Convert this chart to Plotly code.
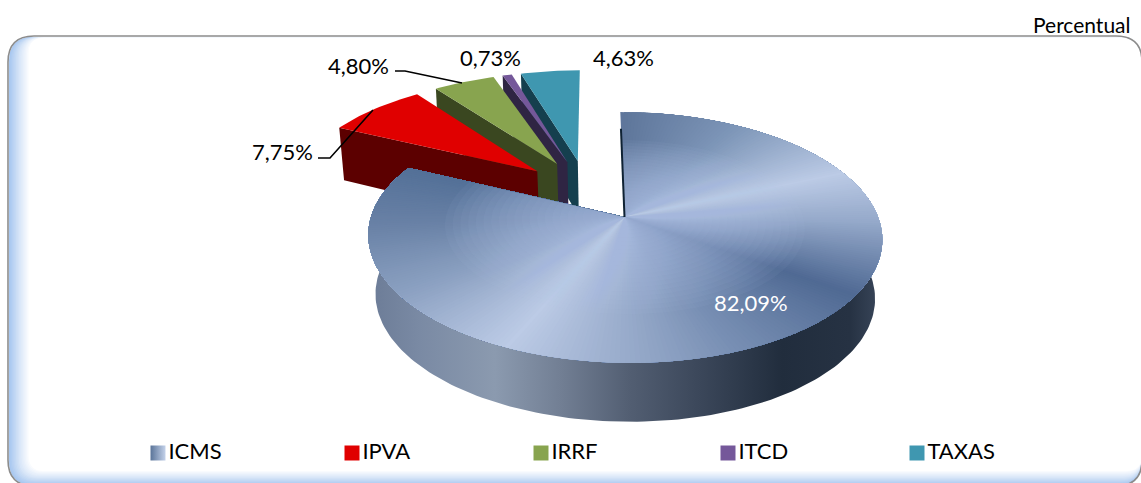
import math
import plotly.graph_objects as go

# ---- data ----
categories = ["ICMS", "IPVA", "IRRF", "ITCD", "TAXAS"]
values = [82.09, 7.75, 4.80, 0.73, 4.63]
value_labels = ["82,09%", "7,75%", "4,80%", "0,73%", "4,63%"]
top_colors = ["#5a7499", "#e00000", "#88a44f", "#75589a", "#3f97b0"]
wall_colors = ["#1d2a3b", "#5c0000", "#3a4720", "#2f2543", "#153f4e"]

W, H = 1141, 483
FONT = "Lato"

# ---- projection of the tilted disc to axis units ----
XV, X0, AX, BY, Y0, K = 594.5, 624.5, 253.5, 122.0, 217.0, 0.163
PULL = 0.27


def project(u, v, low=False):
    w = 1 + K * v
    x = XV + (X0 - XV + AX * u) / w
    y = Y0 - BY * v / w
    if low:
        s = 0.972 if v < 0.2 else min(0.986, 0.972 + 0.014 * (v - 0.2) / 0.8)
        x = 624 + (x - 624) * s
        y += 59 if v < 0 else 59 - 7.7 * v
    return x, y


def unit(deg):
    r = math.radians(deg)
    return math.sin(r), math.cos(r)


def lerp_color(stops, t):
    if t <= stops[0][0]:
        return stops[0][1]
    for (t0, c0), (t1, c1) in zip(stops, stops[1:]):
        if t <= t1:
            f = 0 if t1 == t0 else (t - t0) / (t1 - t0)
            ch = [int(c0[i:i + 2], 16) + f * (int(c1[i:i + 2], 16) - int(c0[i:i + 2], 16)) for i in (1, 3, 5)]
            return "rgb(%d,%d,%d)" % tuple(ch)
    return stops[-1][1]


fig = go.Figure()


def add_poly(pts, color):
    xs = [p[0] for p in pts] + [pts[0][0]]
    ys = [p[1] for p in pts] + [pts[0][1]]
    fig.add_trace(go.Scatter(x=xs, y=ys, mode="lines", fill="toself", fillcolor=color,
                             line=dict(width=0, color=color), hoverinfo="skip", showlegend=False))


# ---- slice angles come from the values ----
total = sum(values)
edges = [0.0]
for val in values:
    edges.append(edges[-1] + val / total * 360)
main_mid = unit((edges[0] + edges[1]) / 2)


def offset(i):
    if i == 0:
        return 0.0, 0.0
    d = unit((edges[i] + edges[i + 1]) / 2)
    return PULL * (d[0] - main_mid[0]), PULL * (d[1] - main_mid[1])


def slid(p):
    return p[0] - 1.5, p[1]


# pulled slices, back to front
for i in [4, 3, 2, 1]:
    ou, ov = offset(i)
    a0, a1 = edges[i], edges[i + 1]
    su, sv = unit(a0)
    wall = [project(ou + su, ov + sv), project(ou, ov), project(ou, ov, True), project(ou + su, ov + sv, True)]
    add_poly([slid(p) for p in wall], wall_colors[i])
    steps = max(4, int(a1 - a0))
    top = [project(ou, ov)]
    for s in range(steps + 1):
        uu, vv = unit(a0 + (a1 - a0) * s / steps)
        top.append(project(ou + uu, ov + vv))
    add_poly([slid(p) for p in top], top_colors[i])

# ICMS outer wall
a1 = edges[1]
arc = [a1 * s / 220 for s in range(221) if a1 * s / 220 >= 55]
upper = [project(*unit(a)) for a in arc]
lower = [project(*unit(a), True) for a in reversed(arc)]
wall = upper + lower
G0, G1 = 367.0, 882.0
wall_stops = [(367, "#6b7b96"), (420, "#7a8aa4"), (495, "#8b9aaf"), (560, "#727f94"), (630, "#525e72"),
              (700, "#3b475a"), (782, "#212d3d"), (850, "#263243"), (882, "#3a475b")]
fig.add_trace(go.Scatter(
    x=[p[0] for p in wall] + [wall[0][0]], y=[p[1] for p in wall] + [wall[0][1]],
    mode="lines", fill="toself", line=dict(width=0), hoverinfo="skip", showlegend=False,
    fillgradient=dict(type="horizontal", start=G0, stop=G1,
                      colorscale=[[(x - G0) / (G1 - G0), c] for x, c in wall_stops]),
))

# ICMS top face: colour turns around the apex, painted in overlapping sectors
shade = [(0, "#5f769b"), (30, "#7c95b7"), (67, "#bccbe6"), (92, "#95a9ca"), (125, "#506a94"), (160, "#7a91b5"),
         (204, "#bccbe6"), (235, "#8ba0c1"), (265, "#6a82a7"), (296, "#537097")]
STEP = 1.0
ang = 0.0
while ang < a1:
    sector_steps = max(1, int((a1 - ang) / 1.5))
    poly = [project(0, 0)] + [project(*unit(ang + (a1 - ang) * s / sector_steps)) for s in range(sector_steps + 1)]
    add_poly(poly, lerp_color(shade, ang))
    ang += STEP

# paler towards the apex: nested translucent copies of the inner face
RINGS = 24
REACH = 0.72
for k in range(RINGS):
    scale = REACH * (1 - (k + 0.5) / RINGS)
    poly = [project(0, 0)]
    for s in range(121):
        uu, vv = unit(a1 * s / 120)
        poly.append(project(uu * scale, vv * scale))
    add_poly(poly, "rgba(190,205,232,0.055)")

# inner edge of the ICMS cut
e0 = project(0, 0)
e1 = project(0, 0.82)
fig.add_trace(go.Scatter(x=[e1[0], e0[0]], y=[e1[1], e0[1]], mode="lines",
                         line=dict(color="#0f2233", width=2), hoverinfo="skip", showlegend=False))

# leader lines
for lx, ly in [([318, 330, 373], [158, 158, 110]), ([395, 405, 462], [71, 71, 83])]:
    fig.add_trace(go.Scatter(x=lx, y=ly, mode="lines", line=dict(color="#000000", width=1.6),
                             hoverinfo="skip", showlegend=False))

# legend row
swatch_x = [158, 352, 541, 728, 917]
for i, name in enumerate(categories):
    marker = dict(symbol="square", size=15, color=top_colors[i], line=dict(width=0))
    if i == 0:
        marker["gradient"] = dict(type="horizontal", color="#c4d2ea")
    fig.add_trace(go.Scatter(x=[swatch_x[i]], y=[453], mode="markers+text", name=name, text=[name],
                             textposition="middle right", marker=marker, hoverinfo="skip", showlegend=False,
                             textfont=dict(family=FONT, size=22, color="#000000")))

# ---- frame with its soft blue inner glow ----


def rounded(l, t, r, b, rad):
    return (f"M{l},{t + rad} Q{l},{t} {l + rad},{t} L{r - rad},{t} Q{r},{t} {r},{t + rad} "
            f"L{r},{b - rad} Q{r},{b} {r - rad},{b} L{l + rad},{b} Q{l},{b} {l},{b - rad} Z")


shapes = []
GL = 14
for g in range(GL + 1):
    f = g / GL
    c = lerp_color([(0, "#a9c8f0"), (0.5, "#d8e6f8"), (1, "#ffffff")], f)
    shapes.append(dict(type="path", xref="x", yref="y", layer="below", line=dict(width=0), fillcolor=c,
                       path=rounded(9 + g * 1.4, 37 + g * 0.05, 1142, 485 - g * 1.0, max(6, 24 - g * 0.6))))
shapes.append(dict(type="path", xref="x", yref="y", layer="below", line=dict(color="#8c8c8c", width=1.6),
                   fillcolor="rgba(0,0,0,0)", path=rounded(8, 36, 1142, 486, 26)))

ann = []
label_pos = [(751, 302, "#ffffff"), (282, 151, "#000000"), (358, 65, "#000000"), (490, 57, "#000000"), (623, 57, "#000000")]
for txt, (ax, ay, col) in zip(value_labels, label_pos):
    ann.append(dict(x=ax, y=ay, xref="x", yref="y", text=txt, showarrow=False,
                    font=dict(family=FONT, size=22, color=col)))
ann.append(dict(x=1132, y=24, xref="x", yref="y", text="Percentual", showarrow=False, xanchor="right",
                font=dict(family=FONT, size=21, color="#000000")))

fig.update_layout(
    width=W, height=H, margin=dict(l=0, r=0, t=0, b=0), showlegend=False,
    paper_bgcolor="#ffffff", plot_bgcolor="rgba(0,0,0,0)",
    xaxis=dict(range=[0, W], visible=False, fixedrange=True),
    yaxis=dict(range=[H, 0], visible=False, fixedrange=True),
    shapes=shapes, annotations=ann,
)
fig.write_html("out.html", config={"displayModeBar": False},
               post_script="document.body.style.margin='0';document.documentElement.style.overflow='hidden';")
